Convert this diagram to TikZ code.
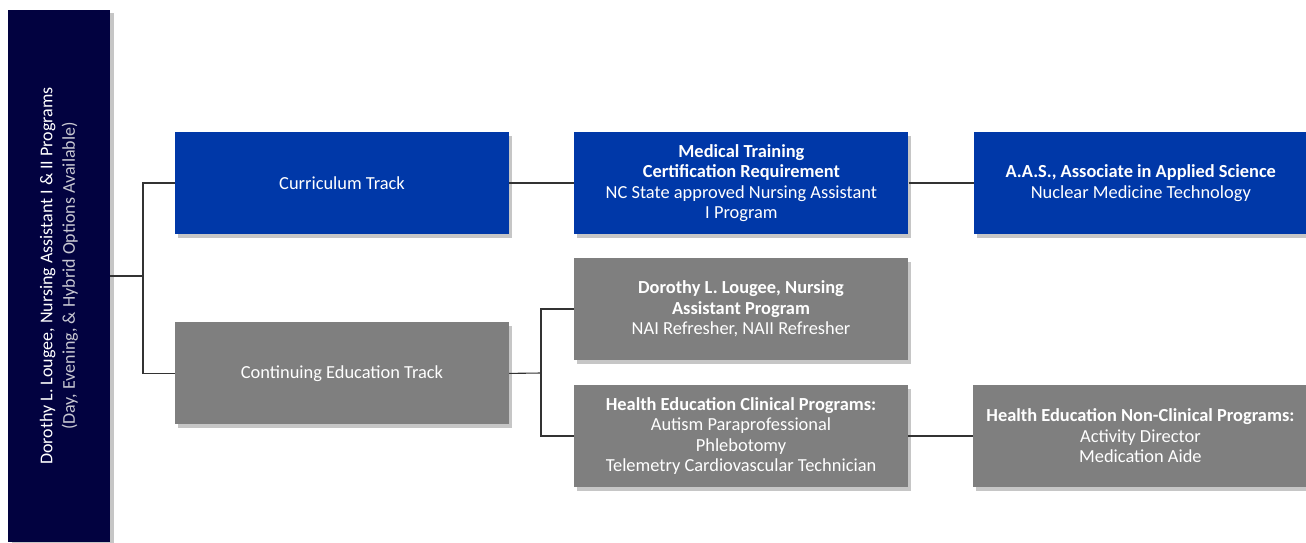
\documentclass[tikz,border=0pt]{standalone}
\usepackage{fontspec}
\setmainfont{Carlito}
\usetikzlibrary{positioning,shadows}
\definecolor{rootnavy}{RGB}{2,2,64}
\definecolor{trackblue}{RGB}{0,56,168}
\definecolor{trackgrey}{RGB}{127,127,127}
\definecolor{subgrey}{RGB}{200,200,210}

\begin{document}
\begin{tikzpicture}[x=1pt, y=-1pt,
    card/.style={minimum width=334pt, minimum height=102pt, inner sep=0pt, align=center,
      text=white, font=\fontsize{18.4}{20.5}\selectfont,
      drop shadow={opacity=0.45, shadow xshift=3pt, shadow yshift=-4pt}},
    bluecard/.style={card, fill=trackblue},
    greycard/.style={card, fill=trackgrey},
    link/.style={draw=black!80, line width=1.1pt}]
  \useasboundingbox (0,0) rectangle (1306,542);

  % root column
  \node (root) [fill=rootnavy, minimum width=102pt, minimum height=532pt, inner sep=0pt,
    drop shadow={opacity=0.45, shadow xshift=4pt, shadow yshift=-3pt}] at (59,276) {};
  \node (rootlbl) [rotate=90, align=center, text=white, font=\fontsize{18}{22.5}\selectfont] at (root.center)
    {Dorothy L. Lougee, Nursing Assistant I \& II Programs\\
     \textcolor{subgrey}{(Day, Evening, \& Hybrid Options Available)}};

  % tracks
  \node (cur) [bluecard] at (342,183) {Curriculum Track};
  \node (cont) [greycard, below=88pt of cur] {Continuing Education Track};

  % curriculum branch
  \node (med) [bluecard, right=65pt of cur]
    {\textbf{Medical Training}\\\textbf{Certification Requirement}\\
     NC State approved Nursing Assistant\\I Program};
  \node (aas) [bluecard, right=65pt of med]
    {\textbf{A.A.S., Associate in Applied Science}\\Nuclear Medicine Technology};

  % continuing branch
  \node (nap) [greycard] at (741,309)
    {\textbf{Dorothy L. Lougee, Nursing}\\\textbf{Assistant Program}\\NAI Refresher, NAII Refresher};
  \node (clin) [greycard] at (741,436)
    {\textbf{Health Education Clinical Programs:}\\Autism Paraprofessional\\Phlebotomy\\
     Telemetry Cardiovascular Technician};
  \node (nonclin) [greycard, right=65pt of clin]
    {\textbf{Health Education Non-Clinical Programs:}\\Activity Director\\Medication Aide};

  % connectors
  \coordinate (fork1) at (143,276);
  \coordinate (fork2) at (541,373);
  \draw[link] (root.east |- fork1) -- (fork1);
  \draw[link] (fork1) |- (cur.west);
  \draw[link] (fork1) |- (cont.west);
  \draw[link] (cur) -- (med);
  \draw[link] (med) -- (aas);
  \draw[link] (cont.east) -- (fork2);
  \draw[link] (fork2) |- (nap.west);
  \draw[link] (fork2) |- (clin.west);
  \draw[link] (clin) -- (nonclin);
\end{tikzpicture}
\end{document}
